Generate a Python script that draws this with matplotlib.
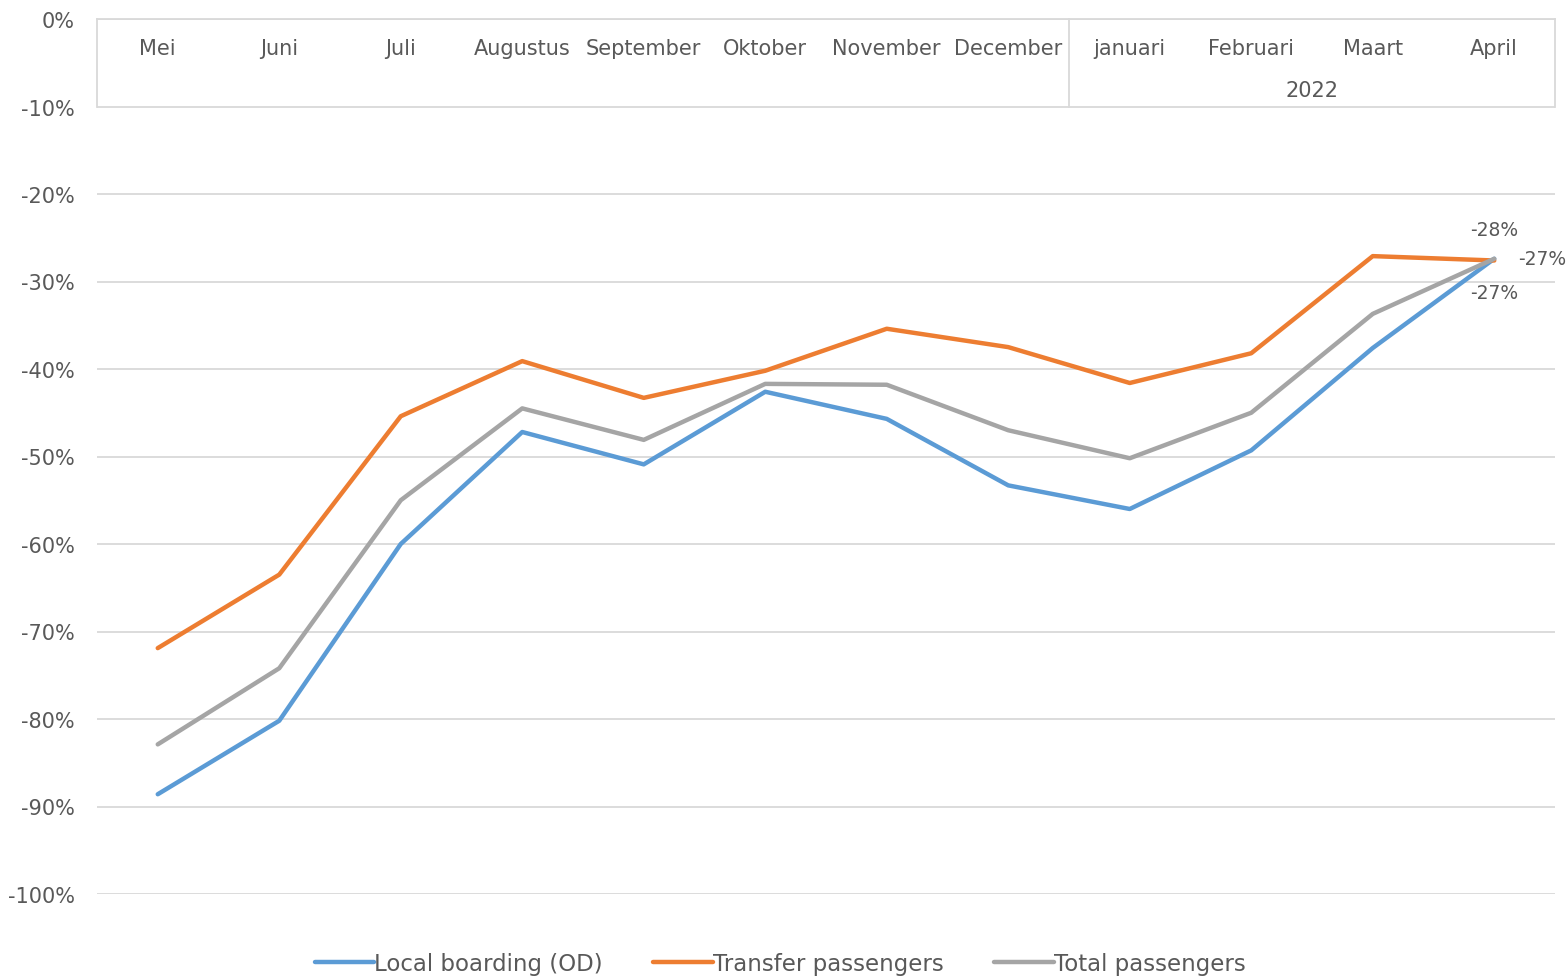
import matplotlib
matplotlib.use("Agg")
import matplotlib.pyplot as plt

months = ["Mei", "Juni", "Juli", "Augustus", "September", "Oktober", "November",
          "December", "januari", "Februari", "Maart", "April"]
year_label = "2022"
local_od = [-88.6, -80.2, -60.0, -47.2, -50.9, -42.6, -45.7, -53.3, -56.0, -49.3, -37.6, -27.4]
transfer = [-71.9, -63.5, -45.4, -39.1, -43.3, -40.2, -35.4, -37.5, -41.6, -38.2, -27.1, -27.6]
total = [-82.9, -74.2, -55.0, -44.5, -48.1, -41.7, -41.8, -47.0, -50.2, -45.0, -33.7, -27.4]
yticks = list(range(0, -101, -10))

TXT = "#595959"
GRID = "#d9d9d9"
plt.rcParams['font.family'] = ['DejaVu Sans']

fig = plt.figure(figsize=(15.67, 9.78), dpi=100)
ax = fig.add_axes([97/1567, 1-895/978, (1555-97)/1567, (895-20)/978])

x = list(range(len(months)))
l1, = ax.plot(x, local_od, color="#5B9BD5", lw=3.2, solid_capstyle="round", label="Local boarding (OD)")
l2, = ax.plot(x, transfer, color="#ED7D31", lw=3.2, solid_capstyle="round", label="Transfer passengers")
l3, = ax.plot(x, total, color="#A5A5A5", lw=3.2, solid_capstyle="round", label="Total passengers")

ax.set_xlim(-0.5, len(months) - 0.5)
ax.set_ylim(-100, 0)
ax.set_yticks(yticks)
ax.set_yticklabels([f"{v}%" for v in yticks], fontsize=15, color=TXT)
ax.tick_params(axis='y', length=0, pad=16)
ax.set_xticks([])
for s in ["left", "right", "bottom"]:
    ax.spines[s].set_visible(False)
ax.spines["top"].set_color(GRID)
ax.spines["top"].set_linewidth(1.3)
ax.grid(axis='y', color=GRID, lw=1.3)
ax.set_axisbelow(True)

# category axis box
for xv in [-0.5, 7.5, len(months) - 0.5]:
    ax.plot([xv, xv], [0, -10], color=GRID, lw=1.3, zorder=1, clip_on=False)
for i, m in enumerate(months):
    ax.text(i, -3.3, m, ha="center", va="center", fontsize=15, color=TXT)
ax.text((8 + len(months) - 1) / 2, -8.1, year_label, ha="center", va="center", fontsize=15, color=TXT)

# end labels
last = len(months) - 1
ax.annotate(f"{round(transfer[-1]):d}%", (last, transfer[-1]), xytext=(0, 22), textcoords="offset points",
            ha="center", va="center", fontsize=13.5, color=TXT)
ax.annotate(f"{round(total[-1]):d}%", (last, total[-1]), xytext=(17, 0), textcoords="offset points",
            ha="left", va="center", fontsize=13.5, color=TXT)
ax.annotate(f"{round(local_od[-1]):d}%", (last, local_od[-1]), xytext=(0, -24), textcoords="offset points",
            ha="center", va="center", fontsize=13.5, color=TXT)

leg = fig.legend(handles=[l1, l2, l3], loc="center", bbox_to_anchor=(780/1567, 1-965/978), ncol=3,
                 frameon=False, fontsize=16.5, handlelength=2.6, handletextpad=0.0, columnspacing=2.2)
for t in leg.get_texts():
    t.set_color(TXT)

fig.savefig("out.png", dpi=100)
